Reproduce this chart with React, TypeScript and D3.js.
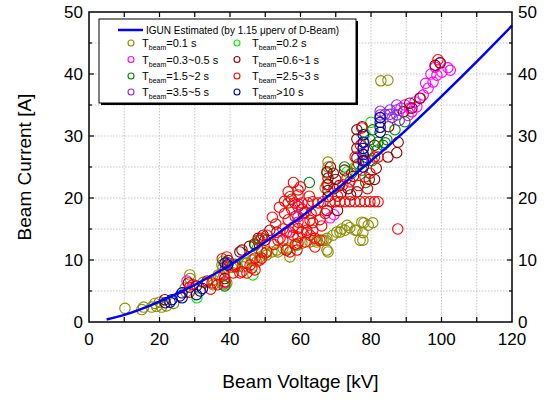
import React, { useEffect, useRef } from "react";
import * as d3 from "d3";

type Pt = [number, number];

// IGUN estimate (kV, A)
const igunV = [5, 10, 20, 30, 40, 50, 60, 70, 80, 90, 100, 110, 120];
const igunI = [0.4, 1.15, 3.3, 6.0, 9.2, 12.9, 16.9, 21.3, 26.0, 31.0, 36.4, 42.0, 47.8];

// measured points, one list per beam duration (kV, A)
const t01: Pt[] = [
  [10.2, 2.2], [15.0, 2.0], [15.5, 2.4], [17.8, 2.4], [18.7, 3.0], [19.2, 2.5], [20.0, 3.2], [20.6, 2.4],
  [22.0, 2.6], [24.0, 3.0], [27.3, 5.5], [27.5, 4.8], [28.6, 7.6], [28.7, 7.0], [32.4, 6.4], [33.5, 6.4],
  [35.2, 6.0], [35.2, 6.8], [36.7, 7.6], [37.2, 7.6], [37.7, 9.2], [38.0, 8.7], [38.0, 6.0], [39.1, 6.3],
  [42.0, 8.9], [43.7, 8.9], [44.3, 9.5], [44.8, 9.5], [46.2, 10.0], [46.5, 10.0], [47.6, 9.7], [48.5, 10.5],
  [50.0, 11.1], [50.4, 10.8], [51.9, 11.3], [53.3, 11.6], [53.6, 11.3], [55.0, 11.9], [56.0, 11.6], [56.5, 11.9],
  [57.0, 10.5], [59.0, 12.4], [60.4, 12.7], [62.7, 12.9], [64.6, 12.9], [64.7, 13.2], [66.0, 13.2], [66.4, 13.2],
  [67.2, 13.2], [67.5, 13.5], [67.5, 11.6], [67.8, 11.3], [67.8, 25.8], [67.8, 25.0], [67.5, 24.0], [67.0, 21.6],
  [69.2, 14.0], [70.3, 14.5], [71.2, 14.5], [71.7, 15.0], [72.6, 14.8], [73.2, 15.6], [74.0, 15.2], [75.5, 14.8],
  [76.0, 14.8], [76.9, 13.2], [77.4, 16.1], [77.7, 14.4], [77.7, 13.2], [78.0, 16.0], [79.2, 15.6], [80.5, 16.0],
  [82.8, 38.9], [84.8, 39.0],
];
const t02: Pt[] = [
  [30.6, 3.9], [38.8, 6.0], [38.0, 9.8], [40.5, 8.8], [46.5, 7.6], [47.8, 12.0], [58.5, 12.3], [73.2, 24.2],
  [75.5, 25.0], [78.3, 30.3], [80.0, 32.2],
];
const t03_05: Pt[] = [
  [27.8, 6.6], [38.5, 6.3], [56.1, 14.5], [59.5, 19.0], [68.4, 16.8], [69.5, 17.3], [88.5, 34.5], [89.6, 35.0],
  [90.5, 33.3], [91.0, 34.5], [91.6, 33.9], [92.5, 35.5], [93.0, 34.7], [93.9, 36.1], [94.8, 36.6], [95.5, 38.5],
  [96.2, 37.7], [97.0, 40.0], [97.6, 38.7], [98.2, 41.1], [98.7, 39.8], [99.6, 41.8], [100.1, 40.3], [101.8, 41.0],
  [102.5, 40.6],
];
const t06_1: Pt[] = [
  [21.5, 3.6], [28.2, 6.3], [30.5, 5.8], [38.5, 7.0], [39.5, 9.9], [42.8, 11.3], [43.4, 11.6], [45.5, 12.2],
  [47.0, 12.6], [48.0, 13.5], [49.4, 14.0], [49.9, 13.2], [51.3, 14.8], [53.3, 14.5], [67.5, 24.2], [67.8, 23.2],
  [67.8, 22.2], [67.8, 21.2], [67.8, 20.2], [67.5, 18.0], [68.5, 25.0], [69.3, 24.0], [69.5, 21.5], [70.0, 23.0],
  [70.5, 18.0], [71.0, 22.0], [71.5, 20.8], [72.5, 24.5], [73.5, 21.5], [74.2, 20.5], [75.0, 23.5], [76.0, 31.0],
  [76.0, 29.5], [76.0, 28.0], [76.0, 26.5], [76.0, 21.0], [77.5, 31.5], [78.5, 26.0], [79.5, 23.0], [81.0, 23.0],
  [81.0, 28.5], [81.5, 24.8], [84.8, 26.6], [85.0, 31.5], [87.3, 27.3], [87.7, 29.0], [89.2, 33.9], [91.0, 35.3],
  [91.6, 34.5], [93.9, 36.1], [98.2, 41.4], [99.6, 41.8],
];
const t15_2: Pt[] = [
  [38.5, 5.8], [39.2, 9.6], [41.5, 9.3], [47.1, 12.4], [48.5, 13.2], [57.5, 19.8], [62.5, 22.5], [72.5, 25.0],
  [74.5, 24.0], [76.5, 25.5], [77.5, 24.5], [78.5, 22.5], [79.2, 27.7], [79.7, 29.4], [80.3, 26.0], [80.5, 31.0],
  [81.7, 27.7], [82.0, 29.0], [83.4, 28.5], [84.0, 28.9], [84.5, 29.4], [86.8, 31.0], [89.6, 32.3],
];
const t25_3: Pt[] = [
  [28.5, 5.6], [28.5, 4.8], [29.5, 6.0], [33.5, 6.6], [34.5, 5.3], [34.9, 6.3], [36.5, 6.0], [37.8, 10.2],
  [38.3, 7.6], [38.6, 6.5], [38.6, 8.4], [39.1, 10.5], [40.8, 9.2], [40.9, 7.9], [41.4, 8.9], [42.8, 7.9],
  [43.4, 8.1], [44.8, 7.9], [45.7, 9.2], [46.2, 8.7], [47.1, 8.4], [47.1, 10.3], [48.0, 13.2], [48.5, 10.0],
  [49.0, 10.3], [49.0, 11.3], [49.0, 13.5], [50.4, 11.3], [50.5, 14.0], [52.0, 16.9], [52.5, 12.5], [53.6, 13.2],
  [54.2, 13.5], [55.0, 13.2], [55.0, 15.0], [55.5, 17.5], [55.5, 19.5], [56.0, 11.6], [56.5, 19.2], [56.5, 16.5],
  [56.5, 21.0], [57.0, 11.3], [57.0, 14.5], [57.5, 18.2], [57.9, 15.3], [57.9, 14.0], [58.0, 22.5], [58.4, 19.2],
  [58.5, 12.5], [58.5, 17.0], [59.0, 11.6], [59.3, 21.3], [59.3, 20.5], [59.3, 18.6], [59.3, 16.1], [59.3, 15.1],
  [59.3, 13.7], [59.3, 12.7], [60.0, 21.8], [60.4, 19.2], [60.4, 14.5], [60.5, 18.2], [60.8, 17.5], [61.3, 12.9],
  [61.3, 17.7], [61.8, 14.8], [61.8, 14.4], [62.1, 19.2], [62.5, 20.3], [62.7, 16.4], [62.7, 14.0], [63.5, 19.4],
  [63.5, 14.8], [63.5, 16.0], [64.1, 13.5], [64.1, 12.1], [64.5, 18.0], [65.0, 19.2], [65.5, 13.2], [66.0, 15.5],
  [66.4, 19.4], [67.0, 17.5], [67.5, 22.1], [68.4, 19.4], [69.8, 19.4], [70.5, 20.3], [71.2, 19.4], [72.0, 22.1],
  [72.6, 19.4], [73.2, 23.2], [74.0, 19.4], [74.0, 22.6], [75.4, 19.4], [75.5, 26.6], [76.0, 25.0], [76.5, 22.0],
  [76.9, 19.4], [77.0, 28.5], [77.4, 31.3], [77.8, 26.1], [78.3, 19.4], [78.3, 23.4], [79.0, 21.5], [79.7, 19.4],
  [79.7, 24.0], [81.0, 26.6], [81.0, 19.4], [82.0, 19.4], [82.0, 26.6], [87.6, 15.0], [99.0, 42.3],
  [53.0, 15.8], [54.0, 18.5], [57.0, 20.2], [61.0, 16.0], [63.0, 17.5], [65.5, 16.5],
];
const t35_5: Pt[] = [
  [39.5, 9.4], [59.3, 17.0], [77.5, 27.2], [77.5, 26.0], [77.8, 28.0], [78.0, 29.0], [82.6, 33.4], [82.6, 32.9],
  [82.6, 34.0], [84.0, 33.5], [85.4, 34.2], [85.4, 33.5], [86.0, 33.0], [87.3, 35.0], [87.3, 34.2], [87.3, 33.4],
  [88.0, 32.5],
];
const t10: Pt[] = [
  [21.6, 3.1], [23.0, 3.2], [23.5, 3.6], [25.8, 4.2], [26.4, 3.9], [26.4, 4.7], [30.5, 4.4], [31.5, 5.0],
  [32.2, 5.4], [38.6, 9.5], [39.3, 9.2], [77.8, 25.0], [77.8, 26.0], [77.8, 27.0], [77.8, 28.0], [77.8, 29.0],
  [77.8, 30.2], [82.6, 30.6], [82.6, 31.4], [82.6, 32.2], [82.6, 33.0],
];

const seriesNames = ["=0.1 s", "=0.2 s", "=0.3~0.5 s", "=0.6~1 s", "=1.5~2 s", "=2.5~3 s", "=3.5~5 s", ">10 s"];
const seriesData = [t01, t02, t03_05, t06_1, t15_2, t25_3, t35_5, t10];
const seriesColors = ["#8c8c00", "#00ee00", "#ff00ff", "#8b0000", "#008000", "#ff0000", "#8a2be2", "#000099"];

function App() {
  const svgRef = useRef<SVGSVGElement>(null);
  const width = 547;
  const height = 400;
  const margin = { top: 12, right: 35, bottom: 78, left: 89 };
  const font = "'Liberation Sans', Arial, sans-serif";

  useEffect(() => {
    const svg = d3.select(svgRef.current);
    svg.selectAll("*").remove();

    const x = d3.scaleLinear().domain([0, 120]).range([margin.left, width - margin.right]);
    const y = d3.scaleLinear().domain([0, 50]).range([height - margin.bottom, margin.top]);
    const [x0, x1] = x.range();
    const [y0, y1] = y.range();

    // dotted grid
    const grid = svg.append("g").attr("stroke", "#c8c8c8").attr("stroke-dasharray", "1.5,1.5");
    d3.range(10, 120, 10).forEach((v) =>
      grid.append("line").attr("x1", x(v)).attr("x2", x(v)).attr("y1", y1).attr("y2", y0)
    );
    d3.range(5, 50, 5).forEach((v) =>
      grid.append("line").attr("x1", x0).attr("x2", x1).attr("y1", y(v)).attr("y2", y(v))
    );

    // markers
    seriesData.forEach((pts, k) => {
      svg
        .append("g")
        .selectAll("circle")
        .data(pts)
        .enter()
        .append("circle")
        .attr("cx", (d) => x(d[0]))
        .attr("cy", (d) => y(d[1]))
        .attr("r", 5.2)
        .attr("fill", "none")
        .attr("stroke", seriesColors[k])
        .attr("stroke-width", 1.1);
    });

    // IGUN curve
    const line = d3
      .line<number>()
      .x((_, i) => x(igunV[i]))
      .y((d) => y(d))
      .curve(d3.curveMonotoneX);
    svg
      .append("path")
      .datum(igunI)
      .attr("fill", "none")
      .attr("stroke", "#0000ff")
      .attr("stroke-width", 2.5)
      .attr("d", line);

    // frame and ticks
    svg
      .append("rect")
      .attr("x", x0)
      .attr("y", y1)
      .attr("width", x1 - x0)
      .attr("height", y0 - y1)
      .attr("fill", "none")
      .attr("stroke", "#000")
      .attr("stroke-width", 1.5);

    const ticks = svg.append("g").attr("stroke", "#000").attr("stroke-width", 1.2);
    d3.range(10, 120, 10).forEach((v) => {
      ticks.append("line").attr("x1", x(v)).attr("x2", x(v)).attr("y1", y0).attr("y2", y0 - 5);
      ticks.append("line").attr("x1", x(v)).attr("x2", x(v)).attr("y1", y1).attr("y2", y1 + 5);
    });
    d3.range(5, 50, 5).forEach((v) => {
      const len = v % 10 === 0 ? 5 : 3;
      ticks.append("line").attr("x1", x0).attr("x2", x0 + len).attr("y1", y(v)).attr("y2", y(v));
      ticks.append("line").attr("x1", x1).attr("x2", x1 - len).attr("y1", y(v)).attr("y2", y(v));
    });

    const labels = svg.append("g").attr("font-family", font).attr("font-size", 17).attr("fill", "#000");
    d3.range(0, 121, 20).forEach((v) =>
      labels.append("text").attr("x", x(v)).attr("y", y0 + 23).attr("text-anchor", "middle").text(v)
    );
    d3.range(0, 51, 10).forEach((v) => {
      labels.append("text").attr("x", x0 - 6).attr("y", y(v)).attr("dy", "0.35em").attr("text-anchor", "end").text(v);
      labels.append("text").attr("x", x1 + 6).attr("y", y(v)).attr("dy", "0.35em").attr("text-anchor", "start").text(v);
    });

    // axis titles
    svg
      .append("text")
      .attr("x", (x0 + x1) / 2)
      .attr("y", 388)
      .attr("text-anchor", "middle")
      .attr("font-family", font)
      .attr("font-size", 19)
      .text("Beam Voltage [kV]");
    svg
      .append("text")
      .attr("transform", `translate(31,${(y0 + y1) / 2}) rotate(-90)`)
      .attr("text-anchor", "middle")
      .attr("font-family", font)
      .attr("font-size", 19)
      .text("Beam Current [A]");

    // legend
    const lg = svg.append("g").attr("font-family", font);
    lg.append("rect").attr("x", 101).attr("y", 21).attr("width", 257).attr("height", 84).attr("fill", "#000");
    lg.append("rect")
      .attr("x", 99)
      .attr("y", 19)
      .attr("width", 257)
      .attr("height", 84)
      .attr("fill", "#fff")
      .attr("stroke", "#000")
      .attr("stroke-width", 1);
    lg.append("line").attr("x1", 118).attr("x2", 143).attr("y1", 30).attr("y2", 30).attr("stroke", "#0000ff").attr("stroke-width", 2.5);
    lg.append("text").attr("x", 146).attr("y", 34).attr("font-size", 10).text("IGUN Estimated (by 1.15 \u03bcperv of D-Beam)");

    const rowY = [43, 59.5, 76, 92];
    seriesNames.forEach((name, k) => {
      const col = k % 2;
      const ry = rowY[Math.floor(k / 2)];
      const mx = col === 0 ? 131 : 237;
      const tx = col === 0 ? 142 : 252;
      lg.append("circle").attr("cx", mx).attr("cy", ry).attr("r", 3).attr("fill", "none").attr("stroke", seriesColors[k]).attr("stroke-width", 1.1);
      const t = lg.append("text").attr("x", tx).attr("y", ry + 4).attr("font-size", 11);
      t.append("tspan").text("T");
      t.append("tspan").attr("font-size", 7).attr("dy", 3).text("beam");
      t.append("tspan").attr("dy", -3).text(name);
    });
  }, []);

  return (
    <div style={{ position: "absolute", left: 0, top: 0 }}>
      <svg ref={svgRef} width={width} height={height}></svg>
    </div>
  );
}

export default App;
